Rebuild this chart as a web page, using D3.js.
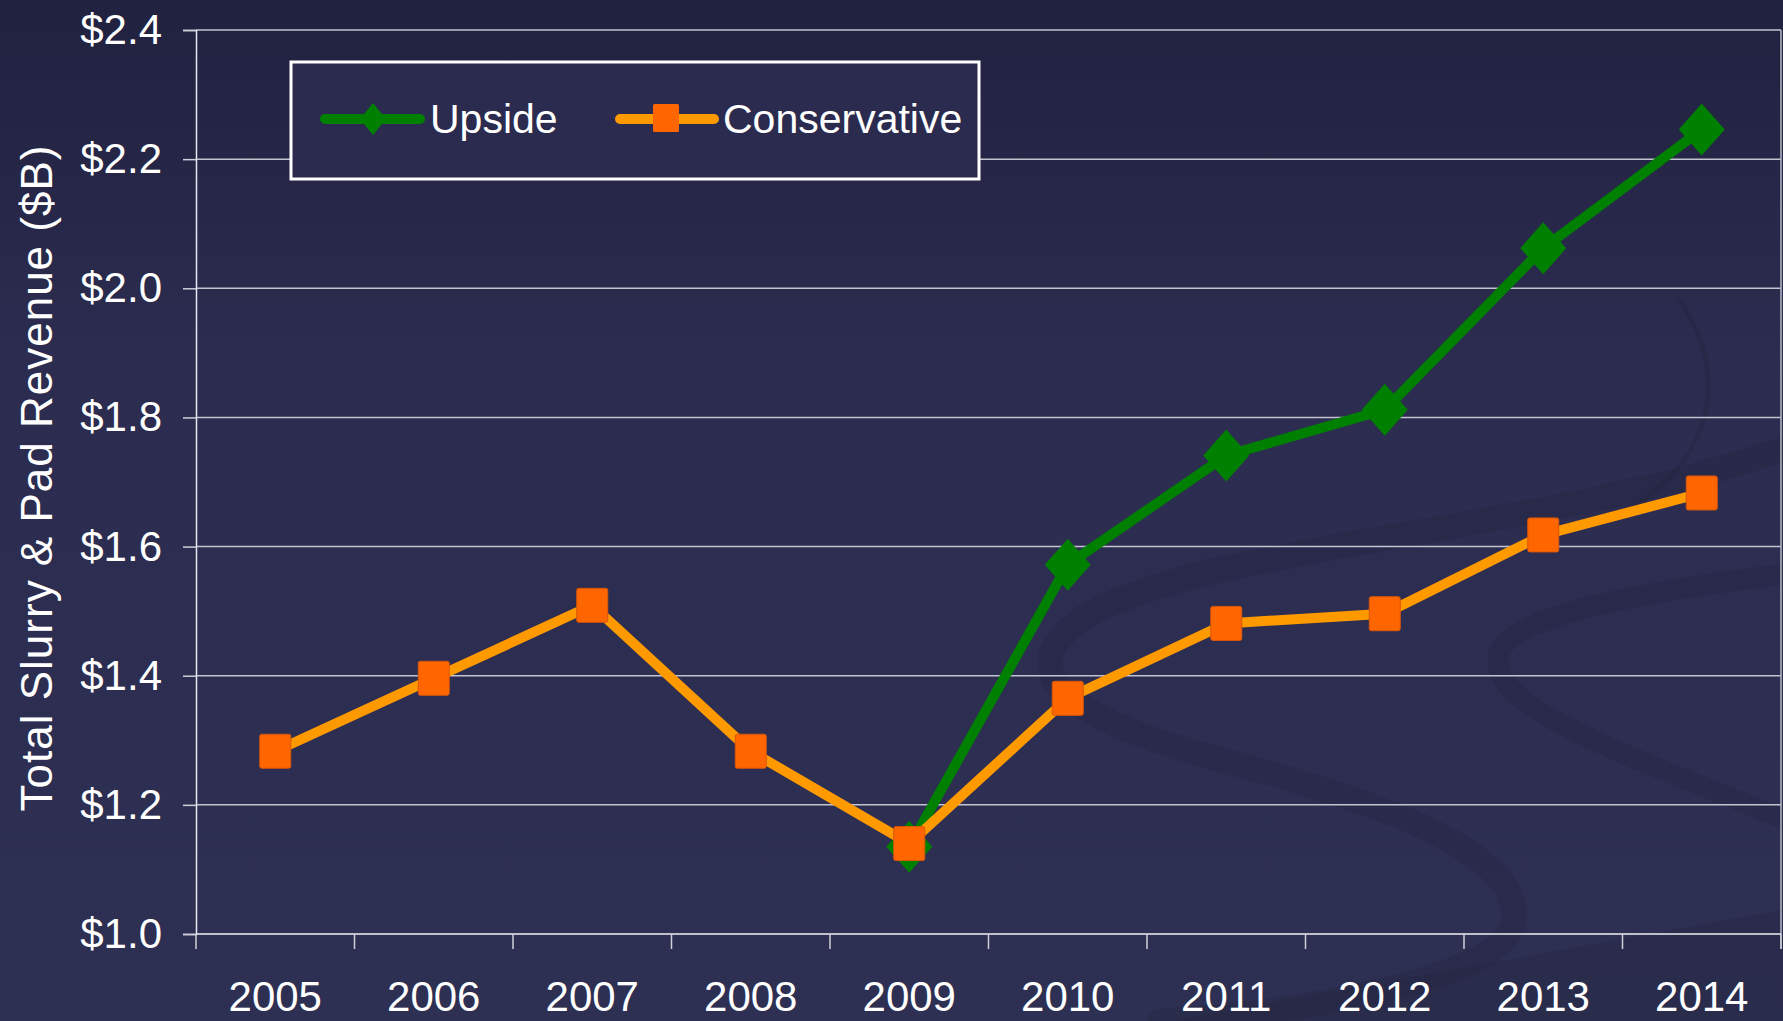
<!DOCTYPE html>
<html>
<head>
<meta charset="utf-8">
<script src="https://cdn.jsdelivr.net/npm/d3@7"></script>
<style>
  html, body { margin: 0; padding: 0; background: #2c2d50; overflow: hidden; }
  svg { display: block; }
  text { font-family: "Liberation Sans", Arial, sans-serif; fill: #ffffff; }
</style>
</head>
<body>
<div id="chart"></div>
<script>
// data
const years = ["2005", "2006", "2007", "2008", "2009", "2010", "2011", "2012", "2013", "2014"];
const upside = [null, null, null, null, 1.135, 1.572, 1.741, 1.812, 2.062, 2.246];
const conservative = [1.283, 1.396, 1.509, 1.283, 1.140, 1.365, 1.481, 1.496, 1.618, 1.683];
const yTicks = [1.0, 1.2, 1.4, 1.6, 1.8, 2.0, 2.2, 2.4];
const seriesNames = ["Upside", "Conservative"];

const width = 1783, height = 1021;
const plot = { left: 196, right: 1781, top: 30, bottom: 934 };

const svg = d3.select("#chart")
    .append("svg")
    .attr("width", width)
    .attr("height", height);

// background
const defs = svg.append("defs");
const bg = defs.append("linearGradient")
    .attr("id", "bg")
    .attr("x1", 0).attr("y1", 0).attr("x2", 0).attr("y2", 1);
bg.append("stop").attr("offset", "0%").attr("stop-color", "#212240");
bg.append("stop").attr("offset", "35%").attr("stop-color", "#2b2c4f");
bg.append("stop").attr("offset", "100%").attr("stop-color", "#2e3053");

svg.append("rect")
    .attr("width", width)
    .attr("height", height)
    .attr("fill", "url(#bg)");

// faint swooshes of the slide template (drawn in the 1568-wide frame, then scaled)
const deco = svg.append("g")
    .attr("transform", "scale(1.1371)")
    .attr("fill", "none")
    .attr("stroke", "#1f2038")
    .attr("stroke-opacity", 0.22)
    .attr("stroke-linecap", "round");

deco.append("path")
    .attr("d", "M1568,395 C1350,470 1050,480 950,545 C890,590 930,630 1080,670 C1250,715 1345,760 1330,815 C1315,860 1150,890 1020,898")
    .attr("stroke-width", 22);
deco.append("path")
    .attr("d", "M1568,505 C1450,520 1330,540 1318,575 C1305,620 1420,660 1568,720")
    .attr("stroke-width", 18);
deco.append("path")
    .attr("d", "M1478,265 C1520,330 1510,400 1430,450")
    .attr("stroke-width", 4);
deco.append("path")
    .attr("d", "M1030,898 L1568,800 L1568,898 Z")
    .attr("fill", "#1f2038")
    .attr("fill-opacity", 0.22)
    .attr("stroke", "none");

// scales
const x = d3.scaleBand()
    .domain(years)
    .range([plot.left, plot.right])
    .padding(0);

const y = d3.scaleLinear()
    .domain([1.0, 2.4])
    .range([plot.bottom, plot.top]);

// gridlines
svg.append("g")
    .selectAll("line")
    .data(yTicks.filter(d => d > 1.0))
    .enter()
    .append("line")
    .attr("x1", plot.left)
    .attr("x2", plot.right)
    .attr("y1", d => y(d))
    .attr("y2", d => y(d))
    .attr("stroke", "#c4c4d0")
    .attr("stroke-width", 1.5);

// right border
svg.append("line")
    .attr("x1", plot.right).attr("x2", plot.right)
    .attr("y1", plot.top).attr("y2", plot.bottom + 15)
    .attr("stroke", "#b8b8c4")
    .attr("stroke-width", 1.5);

// y axis
const yAxis = svg.append("g")
    .attr("transform", `translate(${plot.left},0)`)
    .call(d3.axisLeft(y)
        .tickValues(yTicks)
        .tickSize(13)
        .tickPadding(21)
        .tickFormat(d => "$" + d.toFixed(1)));
yAxis.select(".domain").attr("stroke", "#e8e8f0").attr("stroke-width", 1.5);
yAxis.selectAll(".tick line").attr("stroke", "#d0d0da").attr("stroke-width", 1.5);
yAxis.selectAll(".tick text")
    .attr("fill", "#ffffff")
    .attr("font-size", "42px")
    .attr("font-family", "Liberation Sans, Arial, sans-serif")
    .attr("dy", "0.32em");

// x axis: ticks on band edges, labels in band centers
const edges = years.map(d => x(d)).concat([plot.right]);
const xAxis = svg.append("g");
xAxis.append("line")
    .attr("x1", plot.left).attr("x2", plot.right)
    .attr("y1", plot.bottom).attr("y2", plot.bottom)
    .attr("stroke", "#f0f0f5")
    .attr("stroke-width", 1.5);
xAxis.selectAll("line.tick")
    .data(edges)
    .enter()
    .append("line")
    .attr("class", "tick")
    .attr("x1", d => d).attr("x2", d => d)
    .attr("y1", plot.bottom).attr("y2", plot.bottom + 15)
    .attr("stroke", "#d0d0da")
    .attr("stroke-width", 1.5);
xAxis.selectAll("text")
    .data(years)
    .enter()
    .append("text")
    .attr("x", d => x(d) + x.bandwidth() / 2)
    .attr("y", 1011)
    .attr("text-anchor", "middle")
    .attr("font-size", "42px")
    .text(d => d);

// axis title
svg.append("text")
    .attr("transform", "translate(36,478) rotate(-90)")
    .attr("text-anchor", "middle")
    .attr("dominant-baseline", "central")
    .attr("font-size", "44px")
    .attr("letter-spacing", "1px")
    .text("Total Slurry & Pad Revenue ($B)");

// lines
const cx = (d, i) => x(years[i]) + x.bandwidth() / 2;
const line = d3.line()
    .defined(d => d !== null)
    .x(cx)
    .y(d => y(d));

function diamond(w, h) {
    return `M0,${-h / 2} L${w / 2},0 L0,${h / 2} L${-w / 2},0 Z`;
}

// Upside
svg.append("path")
    .datum(upside)
    .attr("d", line)
    .attr("fill", "none")
    .attr("stroke", "#008000")
    .attr("stroke-width", 10)
    .attr("stroke-linejoin", "round");
svg.append("g")
    .selectAll("path")
    .data(upside.map((v, i) => ({ v, i })).filter(d => d.v !== null))
    .enter()
    .append("path")
    .attr("d", diamond(46, 52))
    .attr("transform", d => `translate(${cx(d.v, d.i)},${y(d.v)})`)
    .attr("fill", "#008000");

// Conservative
svg.append("path")
    .datum(conservative)
    .attr("d", line)
    .attr("fill", "none")
    .attr("stroke", "#ff9900")
    .attr("stroke-width", 10)
    .attr("stroke-linejoin", "round");
svg.append("g")
    .selectAll("rect")
    .data(conservative)
    .enter()
    .append("rect")
    .attr("x", (d, i) => cx(d, i) - 15.5)
    .attr("y", d => y(d) - 17)
    .attr("width", 31)
    .attr("height", 34)
    .attr("rx", 2)
    .attr("fill", "#ff6600")
    .attr("stroke", "#d9560a")
    .attr("stroke-width", 1);

// legend
const legend = svg.append("g");
legend.append("rect")
    .attr("x", 291)
    .attr("y", 62)
    .attr("width", 688)
    .attr("height", 117)
    .attr("fill", "#2a2b4e")
    .attr("stroke", "#ffffff")
    .attr("stroke-width", 3);

legend.append("line")
    .attr("x1", 325).attr("x2", 420)
    .attr("y1", 119).attr("y2", 119)
    .attr("stroke", "#008000")
    .attr("stroke-width", 10)
    .attr("stroke-linecap", "round");
legend.append("path")
    .attr("d", diamond(26, 32))
    .attr("transform", "translate(373,119)")
    .attr("fill", "#008000");
legend.append("text")
    .attr("x", 430)
    .attr("y", 133)
    .attr("font-size", "41px")
    .text(seriesNames[0]);

legend.append("line")
    .attr("x1", 620).attr("x2", 714)
    .attr("y1", 119).attr("y2", 119)
    .attr("stroke", "#ff9900")
    .attr("stroke-width", 10)
    .attr("stroke-linecap", "round");
legend.append("rect")
    .attr("x", 653).attr("y", 104)
    .attr("width", 26).attr("height", 28)
    .attr("rx", 1.5)
    .attr("fill", "#ff6600");
legend.append("text")
    .attr("x", 723)
    .attr("y", 133)
    .attr("font-size", "41px")
    .text(seriesNames[1]);
</script>
</body>
</html>
